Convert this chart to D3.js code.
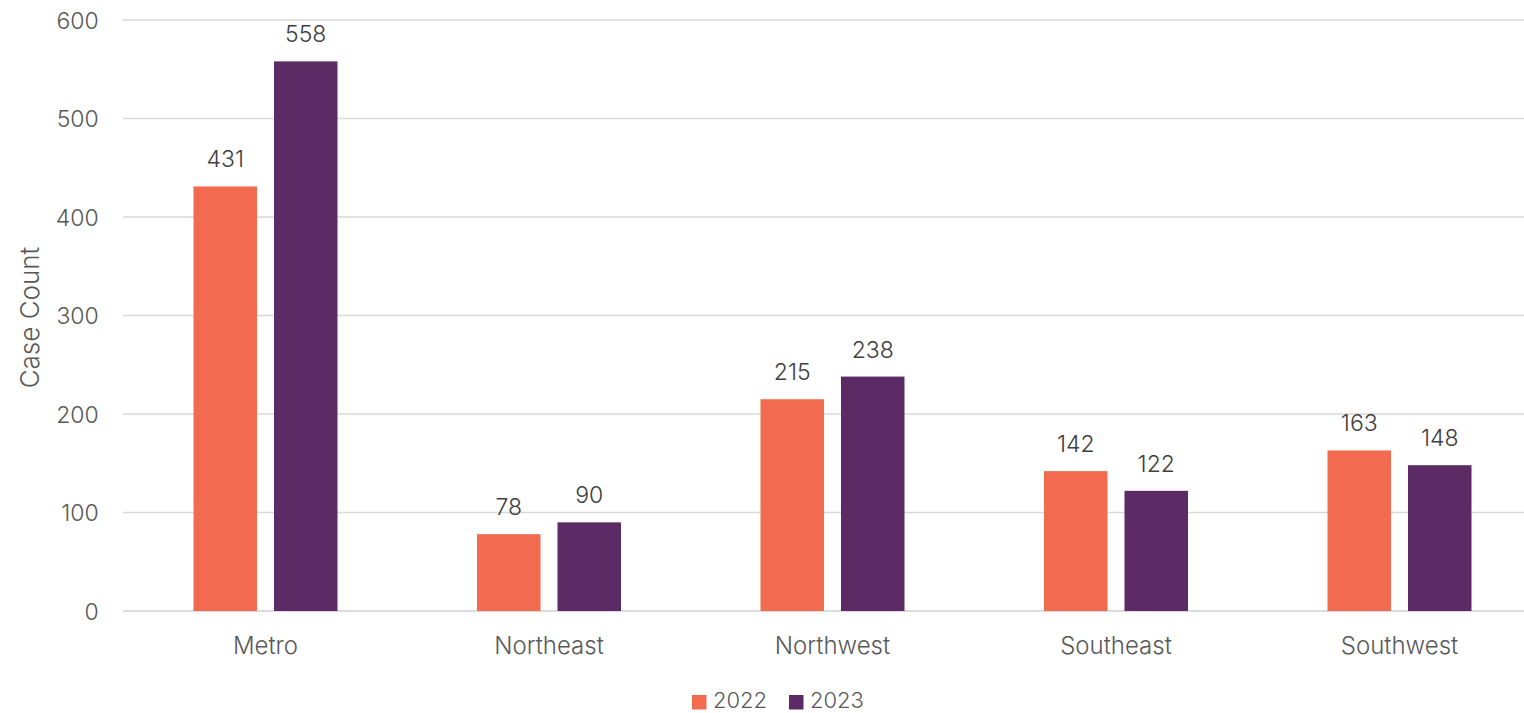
<!DOCTYPE html>
<html><head><meta charset="utf-8">
<script src="https://cdn.jsdelivr.net/npm/d3@7"></script>
<style>
html,body{margin:0;padding:0;background:#fff;}
svg{display:block;font-family:Inter,"Open Sans",sans-serif;}
svg text{font-weight:300;}
</style></head>
<body>
<svg id="chart" width="1524" height="713"></svg>
<script>
const categories = ["Metro","Northeast","Northwest","Southeast","Southwest"];
const seriesNames = ["2022","2023"];
const values2022 = [431,78,215,142,163];
const values2023 = [558,90,238,122,148];
const yTicks = [0,100,200,300,400,500,600];
const colors = ["#F26A4F","#5C2A65"];
const yTitle = "Case Count";

(function(){
const data = categories.map((c,i)=>({cat:c, vals:[values2022[i], values2023[i]]}));

const svg = d3.select("#chart");
const mLeft = 123.75, mRight = 1541.25, mTop = 20, mBottom = 611;

const x0 = d3.scaleBand().domain(categories).range([mLeft,mRight]).paddingInner(0).paddingOuter(0);
const groupW = 144;
const off = (x0.bandwidth()-groupW)/2;
const x1 = d3.scaleBand().domain(seriesNames).range([off, off+groupW]).paddingInner(0.211).paddingOuter(0);
const y = d3.scaleLinear().domain([0,600]).range([mBottom, mTop]);

const textColor = "#595959";
const ff = "Inter,'Open Sans',sans-serif";

svg.append("g").selectAll("line").data(yTicks).join("line")
  .attr("x1", mLeft-0.75).attr("x2", 1524)
  .attr("y1", d=>y(d)).attr("y2", d=>y(d))
  .attr("stroke", d=> d===0 ? "#d0d0d0" : "#d9d9d9")
  .attr("stroke-width", 1.5);

const yAxis = d3.axisLeft(y).tickValues(yTicks).tickSize(0).tickPadding(0);
const ya = svg.append("g").attr("transform", `translate(${mLeft-25},0)`).call(yAxis);
ya.select(".domain").remove();
ya.selectAll("text").attr("fill", textColor).style("font-size","23px")
  .style("font-family",ff).attr("dy","0.35em");

const groups = svg.append("g").selectAll("g").data(data).join("g")
  .attr("transform", d=>`translate(${x0(d.cat)},0)`);
groups.selectAll("rect").data(d=>d.vals.map((v,i)=>({v, s:seriesNames[i], i}))).join("rect")
  .attr("x", d=>x1(d.s)).attr("width", x1.bandwidth())
  .attr("y", d=>y(d.v)).attr("height", d=>y(0)-y(d.v))
  .attr("fill", d=>colors[d.i]);
groups.selectAll("text").data(d=>d.vals.map((v,i)=>({v, s:seriesNames[i], i}))).join("text")
  .attr("x", d=>x1(d.s)+x1.bandwidth()/2).attr("y", d=>y(d.v)-19)
  .attr("text-anchor","middle").attr("fill","#404040").style("font-size","23px")
  .text(d=>d.v);

const xAxis = d3.axisBottom(x0).tickSize(0).tickPadding(0);
const xa = svg.append("g").attr("transform", `translate(0,${mBottom+43})`).call(xAxis);
xa.select(".domain").remove();
xa.selectAll("text").attr("fill", textColor).style("font-size","24px")
  .style("font-family",ff).attr("dy","0");

svg.append("text").attr("transform", `translate(39,${(mTop+mBottom)/2+2}) rotate(-90)`)
  .attr("text-anchor","middle").attr("fill", textColor).style("font-size","26px").text(yTitle);

const legend = svg.append("g");
const legX = [692, 789];
seriesNames.forEach((s,i)=>{
  legend.append("rect").attr("x", legX[i]).attr("y", 695).attr("width",14.5).attr("height",14.5).attr("fill", colors[i]);
  legend.append("text").attr("x", legX[i]+21).attr("y", 707.5).attr("fill", textColor).style("font-size","22px").text(s);
});
})();
</script>
</body></html>
